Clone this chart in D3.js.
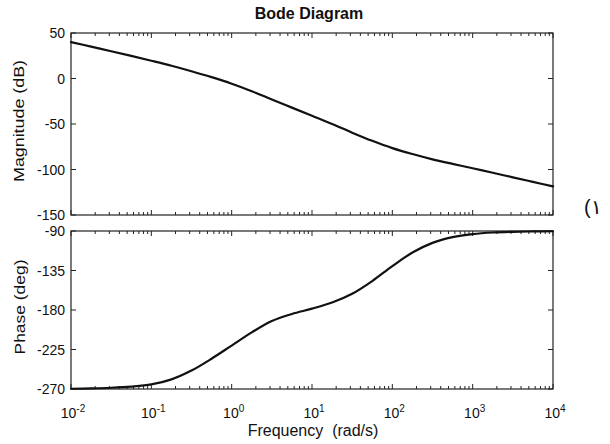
<!DOCTYPE html>
<html>
<head>
<meta charset="utf-8">
<script src="https://cdn.jsdelivr.net/npm/d3@7"></script>
<style>
  html, body { margin: 0; padding: 0; background: #fff; }
  svg { display: block; font-family: "Liberation Sans", Arial, Helvetica, sans-serif; }
</style>
</head>
<body>
<svg id="chart" width="610" height="444"></svg>
<script>
// ---- data ----
const frequencies = [0.01, 0.0178, 0.0316, 0.0562, 0.1, 0.178, 0.316, 0.562, 1, 1.78, 3.16, 5.62,
  10, 17.8, 31.6, 56.2, 100, 178, 316, 562, 1000, 1780, 3160, 5620, 10000];
const magnitudeDb = [40, 35, 30, 24.8, 19.5, 14, 8, 1.5, -5.7, -14, -23, -32,
  -41, -50, -59.5, -68.5, -76.5, -83, -88.8, -93.8, -98.6, -103.6, -108.6, -113.6, -118.6];
const phaseDeg = [-269.7, -269.3, -268.6, -267.3, -264.8, -259, -249, -235.5, -220.5, -205.5, -192.5, -184.5,
  -178.5, -171.5, -161.5, -147, -130, -114.5, -103.5, -97, -93.5, -91.7, -90.9, -90.5, -90.3];
const xTickValues = [0.01, 0.1, 1, 10, 100, 1000, 10000];
const xTickExponents = ["-2", "-1", "0", "1", "2", "3", "4"];
const magTicks = [-150, -100, -50, 0, 50];
const phaseTicks = [-270, -225, -180, -135, -90];

// ---- layout ----
const svg = d3.select("#chart");
const L = 71, R = 553;
const panels = [
  { top: 33, bottom: 215, domain: [-150, 50], ticks: magTicks, values: magnitudeDb,
    label: "Magnitude (dB)", labelX: 19, labelY: 121, labelLen: 122, xLabels: false },
  { top: 231, bottom: 389, domain: [-270, -90], ticks: phaseTicks, values: phaseDeg,
    label: "Phase (deg)", labelX: 20, labelY: 307, labelLen: 95, xLabels: true }
];

const x = d3.scaleLog().domain([0.01, 10000]).range([L, R]);

// minor log ticks
const minorTicks = [];
for (let d = 0; d < xTickValues.length - 1; d++) {
  for (let m = 2; m <= 9; m++) minorTicks.push(xTickValues[d] * m);
}

const ink = "#222";

panels.forEach(p => {
  const y = d3.scaleLinear().domain(p.domain).range([p.bottom, p.top]);
  const g = svg.append("g");

  // frame
  g.append("rect").attr("x", L).attr("y", p.top).attr("width", R - L).attr("height", p.bottom - p.top)
    .attr("fill", "#fff").attr("stroke", ink).attr("stroke-width", 1.2);

  // y ticks left & right (inward)
  p.ticks.forEach(t => {
    g.append("line").attr("x1", L).attr("x2", L + 5).attr("y1", y(t)).attr("y2", y(t)).attr("stroke", ink);
    g.append("line").attr("x1", R).attr("x2", R - 5).attr("y1", y(t)).attr("y2", y(t)).attr("stroke", ink);
    g.append("text").attr("x", L - 6).attr("y", y(t)).attr("dy", "0.36em")
      .attr("text-anchor", "end").attr("font-size", 14).attr("fill", "#111").text(t);
  });

  // x ticks top & bottom (inward)
  xTickValues.forEach(t => {
    g.append("line").attr("x1", x(t)).attr("x2", x(t)).attr("y1", p.bottom).attr("y2", p.bottom - 5).attr("stroke", ink);
    g.append("line").attr("x1", x(t)).attr("x2", x(t)).attr("y1", p.top).attr("y2", p.top + 5).attr("stroke", ink);
  });
  minorTicks.forEach(t => {
    g.append("line").attr("x1", x(t)).attr("x2", x(t)).attr("y1", p.bottom).attr("y2", p.bottom - 3).attr("stroke", ink);
    g.append("line").attr("x1", x(t)).attr("x2", x(t)).attr("y1", p.top).attr("y2", p.top + 3).attr("stroke", ink);
  });

  // curve
  const line = d3.line()
    .x((d, i) => x(frequencies[i]))
    .y(d => y(d))
    .curve(d3.curveCatmullRom.alpha(0.5));
  g.append("path").datum(p.values).attr("d", line)
    .attr("fill", "none").attr("stroke", "#111").attr("stroke-width", 2.2)
    .attr("stroke-linejoin", "round").attr("stroke-linecap", "round");

  // y label
  g.append("text").attr("transform", `translate(${p.labelX},${p.labelY}) rotate(-90)`)
    .attr("text-anchor", "middle").attr("dy", "0.35em").attr("font-size", 14).attr("fill", "#111")
    .attr("textLength", p.labelLen).attr("lengthAdjust", "spacingAndGlyphs").text(p.label);

  if (p.xLabels) {
    xTickValues.forEach((t, i) => {
      const tx = g.append("text").attr("x", x(t) + 2).attr("y", p.bottom + 29)
        .attr("text-anchor", "middle").attr("font-size", 14).attr("fill", "#111");
      tx.append("tspan").text("10");
      tx.append("tspan").attr("dy", -6).attr("font-size", 10).text(xTickExponents[i]);
    });
  }
});

// title
svg.append("text").attr("x", 309).attr("y", 19).attr("text-anchor", "middle")
  .attr("font-size", 16).attr("font-weight", "bold").attr("fill", "#111").text("Bode Diagram");

// x axis label
svg.append("text").attr("x", 313).attr("y", 436).attr("text-anchor", "middle")
  .attr("font-size", 16).attr("fill", "#111").attr("xml:space", "preserve")
  .style("white-space", "pre").text("Frequency  (rad/s)");

// side mark
svg.append("text").attr("x", 584).attr("y", 214).attr("font-size", 20).attr("fill", "#111")
  .attr("direction", "ltr").text("(١");
</script>
</body>
</html>
